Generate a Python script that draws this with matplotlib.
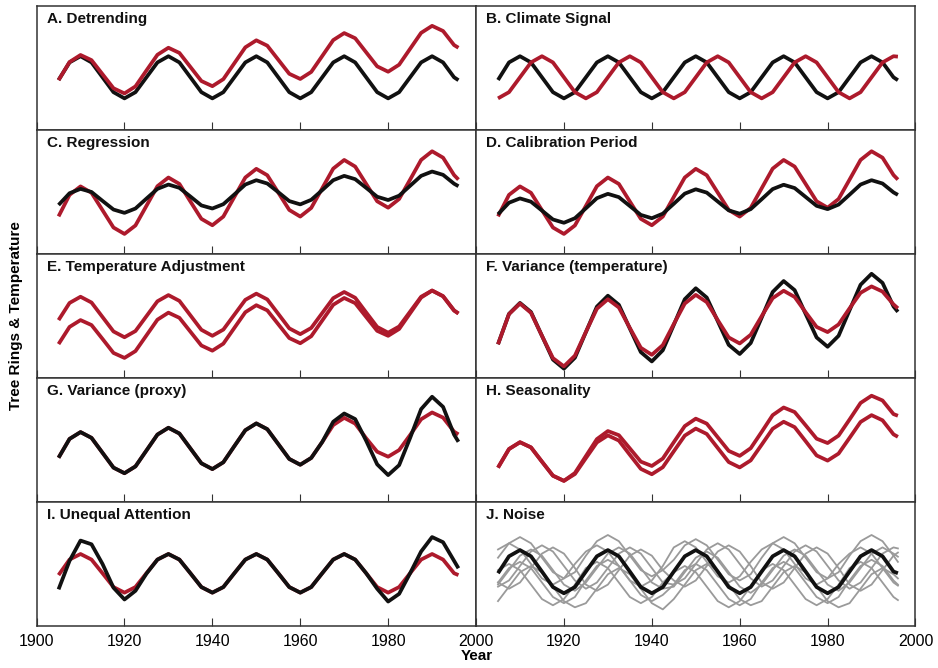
"""Ten idealised tree-ring / temperature panels (A-J) on a shared time axis."""

import matplotlib

matplotlib.use("Agg")
import matplotlib.pyplot as plt
import numpy as np

plt.rcParams["font.family"] = ["Liberation Sans", "DejaVu Sans"]

# --- data (arbitrary anomaly units), sampled every 2.5 years from 1905, last point 1996
YEARS = list(np.arange(1905, 1995.1, 2.5)) + [1996]

A_BLACK = [-0.8, 7.7, 10.7, 7.7, 0.5, -6.7, -9.7, -6.7,
           0.5, 7.7, 10.7, 7.7, 0.5, -6.7, -9.7, -6.7,
           0.5, 7.7, 10.7, 7.7, 0.5, -6.7, -9.7, -6.7,
           0.5, 7.7, 10.7, 7.7, 0.5, -6.7, -9.7, -6.7,
           0.5, 7.7, 10.7, 7.7, 0.5, -0.9]
A_RED = [-0.9, 7.9, 11.3, 8.8, 2.0, -4.8, -7.3, -3.9,
         3.8, 11.4, 14.8, 12.3, 5.5, -1.3, -3.8, -0.4,
         7.3, 15.0, 18.4, 15.8, 9.0, 2.2, -0.3, 3.1,
         10.8, 18.5, 21.9, 19.4, 12.6, 5.8, 3.2, 6.6,
         14.3, 22.0, 25.4, 22.9, 16.1, 14.8]

B_BLACK = A_BLACK  # same climate series as panel A
B_RED = [-9.7, -6.7, 0.5, 7.7, 10.7, 7.7, 0.5, -6.7,
         -9.7, -6.7, 0.5, 7.7, 10.7, 7.7, 0.5, -6.7,
         -9.7, -6.7, 0.5, 7.7, 10.7, 7.7, 0.5, -6.7,
         -9.7, -6.7, 0.5, 7.7, 10.7, 7.7, 0.5, -6.7,
         -9.7, -6.7, 0.5, 7.7, 10.7, 10.5]

C_BLACK = [-1.3, 4.4, 6.5, 5.0, 0.7, -3.5, -5.1, -3.0,
           1.8, 6.5, 8.6, 7.0, 2.8, -1.5, -3.0, -0.9,
           3.8, 8.6, 10.7, 9.1, 4.9, 0.6, -1.0, 1.2,
           5.9, 10.7, 12.8, 11.2, 7.0, 2.7, 1.1, 3.2,
           8.0, 12.8, 14.9, 13.3, 9.0, 7.8]
C_RED = [-6.8, 3.6, 7.7, 4.6, -3.8, -12.2, -15.3, -11.2,
         -1.7, 7.8, 12.0, 8.9, 0.4, -8.0, -11.1, -6.9,
         2.6, 12.0, 16.2, 13.1, 4.7, -3.7, -6.9, -2.7,
         6.8, 16.3, 20.5, 17.3, 8.9, 0.5, -2.6, 1.6,
         11.0, 20.5, 24.7, 21.6, 13.2, 11.0]

D_BLACK = [-5.8, -0.2, 1.9, 0.3, -4.0, -8.3, -9.9, -7.7,
           -2.9, 2.0, 4.1, 2.5, -1.8, -6.1, -7.7, -5.5,
           -0.7, 4.2, 6.3, 4.7, 0.4, -3.9, -5.5, -3.3,
           1.5, 6.4, 8.5, 6.9, 2.6, -1.7, -3.3, -1.1,
           3.7, 8.6, 10.7, 9.1, 4.8, 3.6]
D_RED = C_RED  # same proxy series as panel C

E_UPPER = [3.0, 11.3, 14.3, 11.5, 4.5, -2.5, -5.3, -2.3,
           4.9, 12.1, 15.1, 12.3, 5.3, -1.7, -4.6, -1.6,
           5.6, 12.8, 15.8, 13.0, 6.0, -1.0, -3.8, -0.8,
           6.4, 13.6, 16.6, 13.8, 6.7, -0.3, -3.1, -0.1,
           7.1, 14.3, 17.3, 14.5, 7.6, 6.2]
E_LOWER = [-8.6, -0.3, 3.0, 0.6, -6.1, -12.9, -15.3, -12.0,
           -4.4, 3.2, 6.6, 4.1, -2.6, -9.3, -11.8, -8.4,
           -0.8, 6.8, 10.2, 7.7, 1.0, -5.7, -8.2, -4.8,
           2.8, 10.4, 13.7, 11.2, 4.5, -2.2, -4.6, -1.3,
           6.3, 13.9, 17.3, 14.6, 7.7, 6.2]

F_BLACK = [-8.7, 6.0, 11.3, 6.9, -4.6, -16.1, -20.5, -15.2,
           -2.8, 9.5, 14.8, 10.4, -1.1, -12.5, -17.0, -11.6,
           0.7, 13.1, 18.4, 13.9, 2.5, -9.0, -13.4, -8.1,
           4.2, 16.6, 21.9, 17.5, 6.0, -5.4, -9.9, -4.6,
           7.8, 20.1, 25.4, 21.0, 9.6, 7.0]
F_RED = [-8.7, 5.9, 11.0, 6.5, -4.6, -15.4, -19.4, -14.2,
         -2.7, 8.5, 13.1, 9.1, -0.8, -10.4, -13.8, -9.1,
         1.1, 11.0, 15.2, 11.7, 3.0, -5.4, -8.3, -4.1,
         4.9, 13.6, 17.2, 14.2, 6.8, -0.3, -2.8, 0.9,
         8.7, 16.2, 19.3, 16.8, 10.6, 8.7]

G_RED = [-3.6, 5.5, 8.8, 6.0, -1.2, -8.4, -11.1, -7.8,
         -0.1, 7.6, 10.9, 8.1, 0.9, -6.3, -9.1, -5.8,
         2.0, 9.7, 13.0, 10.2, 3.0, -4.2, -7.0, -3.7,
         4.0, 12.2, 15.7, 12.9, 5.8, -0.7, -3.1, 0.1,
         7.4, 15.0, 18.3, 15.8, 9.0, 7.7]
G_BLACK = [-3.6, 5.5, 8.8, 6.0, -1.2, -8.4, -11.1, -7.8,
           -0.1, 7.6, 10.9, 8.1, 0.9, -6.3, -9.1, -5.8,
           2.0, 9.7, 13.0, 10.2, 3.0, -4.2, -7.0, -3.7,
           4.0, 13.8, 17.8, 15.1, 4.6, -6.8, -12.0, -7.2,
           6.0, 19.9, 25.9, 21.0, 7.6, 4.1]

H_LOWER = [-8.4, 0.6, 3.9, 1.4, -5.5, -12.3, -14.8, -11.5,
           -3.8, 3.8, 7.2, 4.7, -2.2, -9.0, -11.6, -8.2,
           -0.5, 7.1, 10.5, 7.9, 1.1, -5.7, -8.3, -4.9,
           2.7, 10.4, 13.8, 11.2, 4.4, -2.5, -5.0, -1.6,
           6.0, 13.7, 17.0, 14.5, 7.7, 6.5]
H_UPPER = [-8.4, 0.6, 3.9, 1.4, -5.5, -12.3, -14.8, -11.0,
           -2.8, 5.4, 9.3, 7.3, 0.9, -5.5, -7.6, -4.0,
           3.9, 11.7, 15.3, 12.9, 6.3, -0.3, -2.7, 1.0,
           8.9, 17.0, 20.7, 18.5, 12.1, 5.6, 3.5, 7.1,
           14.9, 22.9, 26.4, 24.1, 17.5, 16.7]

I_RED = [-0.4, 7.1, 9.8, 7.1, 0.5, -6.2, -8.9, -6.2,
         0.5, 7.1, 9.8, 7.1, 0.5, -6.2, -8.9, -6.2,
         0.5, 7.1, 9.8, 7.1, 0.5, -6.2, -8.9, -6.2,
         0.5, 7.1, 9.8, 7.1, 0.5, -6.2, -8.9, -6.2,
         0.5, 7.1, 9.8, 7.1, 0.5, -0.4]
I_BLACK = [-7.3, 6.5, 16.3, 14.5, 5.0, -6.5, -12.2, -8.0,
           0.3, 7.1, 9.8, 7.1, 0.5, -6.2, -8.9, -6.2,
           0.5, 7.1, 9.8, 7.1, 0.5, -6.2, -8.9, -6.2,
           0.5, 7.1, 9.8, 7.1, 0.5, -7.0, -13.2, -9.5,
           0.5, 11.0, 18.0, 15.5, 6.5, 2.9]

J_BLACK = [0.5, 8.7, 11.7, 8.7, 1.3, -6.2, -9.2, -6.2,
           1.3, 8.7, 11.7, 8.7, 1.3, -6.2, -9.2, -6.2,
           1.3, 8.7, 11.7, 8.7, 1.3, -6.2, -9.2, -6.2,
           1.3, 8.7, 11.7, 8.7, 1.3, -6.2, -9.2, -6.2,
           1.3, 8.7, 11.7, 8.7, 1.3, 0.5]
J_NOISE = [
    [12, 15, 12, 5, -2, -5, -2, 5, 11, 14, 11, 4, -3, -6, -3, 4,
     13, 16, 13, 6, -1, -4, -1, 6, 12, 15, 12, 5, -2, -5, -2, 5,
     10, 13, 10, 3, -4, -5.5],
    [8, 15, 18, 15, 8, 1, -2, 1, 9, 16, 19, 16, 9, 2, -1, 2,
     7, 14, 17, 14, 7, 0, -3, 0, 8, 15, 18, 15, 8, 1, -2, 1,
     9, 16, 19, 16, 9, 6],
    [-5, 2, 9, 12, 9, 2, -5, -8, -4, 3, 10, 13, 10, 3, -4, -7,
     -6, 1, 8, 11, 8, 1, -6, -9, -5, 2, 9, 12, 9, 2, -5, -8,
     -4, 3, 10, 13, 10, 8.5],
    [-6, -3, 4, 11, 14, 11, 4, -3, -7, -4, 3, 10, 13, 10, 3, -4,
     -5, -2, 5, 12, 15, 12, 5, -2, -6, -3, 4, 11, 14, 11, 4, -3,
     -7, -4, 3, 10, 13, 12.5],
    [2, 5, 2, -5, -12, -15, -12, -5, 3, 6, 3, -4, -11, -14, -11, -4,
     1, 4, 1, -6, -13, -16, -13, -6, 2, 5, 2, -5, -12, -15, -12, -5,
     3, 6, 3, -4, -11, -12.5],
    [-13, -6, 1, 4, 1, -6, -13, -16, -14, -7, 0, 3, 0, -7, -14, -17,
     -12, -5, 2, 5, 2, -5, -12, -15, -13, -6, 1, 4, 1, -6, -13, -16,
     -14, -7, 0, 3, 0, -2],
    [-4, 3, 6, 3, -4, -11, -14, -11, -3, 4, 7, 4, -3, -10, -13, -10,
     -5, 2, 5, 2, -5, -12, -15, -12, -4, 3, 6, 3, -4, -11, -14, -11,
     -3, 4, 7, 4, -3, -5],
    [-4, -7, -4, 3, 10, 13, 10, 3, -5, -8, -5, 2, 9, 12, 9, 2,
     -3, -6, -3, 4, 11, 14, 11, 4, -4, -7, -4, 3, 10, 13, 10, 3,
     -5, -8, -5, 2, 9, 10.5],
]

TITLES = [
    "A. Detrending", "B. Climate Signal",
    "C. Regression", "D. Calibration Period",
    "E. Temperature Adjustment", "F. Variance (temperature)",
    "G. Variance (proxy)", "H. Seasonality",
    "I. Unequal Attention", "J. Noise",
]
TICKS = [1900, 1920, 1940, 1960, 1980, 2000]

RED = "#ad1a2c"
BLACK = "#111111"
GREY = "#9a9a9a"
LW = 2.7

# (series, colour) in drawing order for each panel
PANELS = [
    [(A_BLACK, BLACK), (A_RED, RED)],
    [(B_BLACK, BLACK), (B_RED, RED)],
    [(C_RED, RED), (C_BLACK, BLACK)],
    [(D_RED, RED), (D_BLACK, BLACK)],
    [(E_LOWER, RED), (E_UPPER, RED)],
    [(F_BLACK, BLACK), (F_RED, RED)],
    [(G_RED, RED), (G_BLACK, BLACK)],
    [(H_LOWER, RED), (H_UPPER, RED)],
    [(I_RED, RED), (I_BLACK, BLACK)],
    [(J_BLACK, BLACK)],
]

fig, axes = plt.subplots(5, 2, figsize=(9.38, 6.68), dpi=100)
fig.subplots_adjust(left=0.039, right=0.976, top=0.991, bottom=0.063, wspace=0, hspace=0)

for i, ax in enumerate(axes.flat):
    if i == 9:
        for line in J_NOISE:
            ax.plot(YEARS, line, color=GREY, linewidth=1.3, solid_joinstyle="round")
    for series, color in PANELS[i]:
        ax.plot(YEARS, series, color=color, linewidth=LW, solid_capstyle="butt",
                solid_joinstyle="round")
    ax.text(0.023, 0.955, TITLES[i], transform=ax.transAxes, ha="left", va="top",
            fontsize=11, fontweight="bold", color="#111111")
    ax.set_xlim(1900, 2000)
    ax.set_ylim(-25, 35)
    ax.set_yticks([])
    ax.set_xticks(TICKS)
    if i < 8:
        ax.set_xticklabels([])
    elif i == 9:
        ax.set_xticklabels([""] + [str(t) for t in TICKS[1:]])
    ax.tick_params(axis="x", direction="in", length=6, width=0.8, color="#333333",
                   labelsize=11.5, pad=6)
    for spine in ax.spines.values():
        spine.set_color("#333333")
        spine.set_linewidth(1.1)

fig.text(0.5085, 0.008, "Year", ha="center", va="bottom", fontsize=11, fontweight="bold")
fig.text(0.017, 0.527, "Tree Rings & Temperature", rotation=90, ha="center", va="center",
         fontsize=11, fontweight="bold")

fig.savefig("out.png", dpi=100)
